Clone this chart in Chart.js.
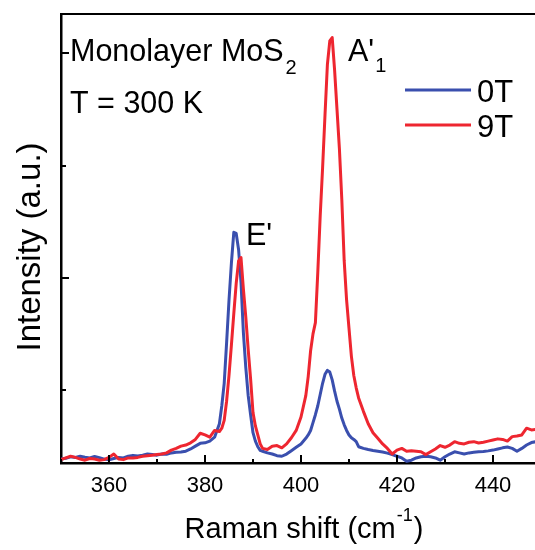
<!DOCTYPE html>
<html>
<head>
<meta charset="utf-8">
<script src="https://cdn.jsdelivr.net/npm/chart.js@4.4.1/dist/chart.umd.min.js"></script>
<style>
  html, body { margin: 0; padding: 0; background: #fff; overflow: hidden; }
  #wrap { width: 535px; height: 550px; position: relative; }
</style>
</head>
<body>
<div id="wrap"><canvas id="c" width="535" height="550"></canvas></div>
<script>
// Raman shift axis (cm^-1)
const shift = [
  350,351,352,353,354,355,356,357,358,359,360,361,362,363,364,365,366,367,368,369,
  370,371,372,373,374,375,376,377,378,379,380,381,382,383,
  383.5,384,384.5,385,385.5,386,386.5,387,387.5,388,388.5,389,389.5,390,390.5,391,391.5,392,
  393,394,395,396,397,398,399,400,401,
  401.5,402,402.5,403,403.5,404,404.5,405,405.5,406,406.5,407,407.5,408,408.5,409,409.5,410,410.5,411,411.5,412,
  413,414,415,416,417,418,419,420,421,422,423,424,425,426,427,428,429,430,431,432,433,434,435,436,437,438,439,440,
  441,442,443,444,445,446,447,448,449
];

// Intensity at 0 T (a.u.)
const int0T = [
  385,392,405,400,410,402,395,408,398,385,378,390,400,395,410,418,412,420,430,425,
  420,430,428,440,445,448,455,475,500,525,530,545,580,700,
  860,1060,1420,1800,2130,2405,2395,2250,1960,1510,1200,950,780,620,545,495,462,455,
  440,430,415,410,430,460,490,520,570,
  600,640,710,780,860,960,1060,1140,1175,1160,1090,990,900,830,750,690,640,600,575,560,540,495,
  480,470,462,455,448,438,425,410,395,365,375,395,405,410,405,395,375,405,430,450,440,430,440,445,450,452,458,465,
  475,485,492,480,455,480,510,532,540
];

// Intensity at 9 T (a.u.)
const int9T = [
  380,395,410,400,385,375,390,385,375,380,400,430,385,380,395,395,400,410,415,420,
  425,430,440,465,480,500,510,530,560,615,600,580,640,630,
  660,730,900,1130,1400,1680,1950,2150,2180,1900,1650,1360,1100,800,680,600,520,480,
  470,500,505,485,520,575,640,760,950,
  1120,1350,1500,1600,2050,2550,2980,3450,3900,4110,4140,3850,3500,3150,2700,2150,1800,1550,1300,1130,1020,930,
  810,700,620,570,520,480,430,465,480,455,460,455,450,425,450,475,505,490,510,540,525,520,535,540,528,535,545,555,
  565,560,545,585,590,600,660,645,650
];

const seriesNames = ['0T', '9T'];
const seriesColors = ['#3a4fae', '#ee2630'];

const xLabelTicks = [360, 380, 400, 420, 440];
const xMinorTicks = [350, 370, 390, 410, 430, 450];
const yMajorTicks = [2000, 4000];
const yMinorTicks = [1000, 3000];

const FONT = '"Liberation Sans", Arial, Helvetica, sans-serif';

// Frame line on top, inward tick marks, annotations, legend and axis titles
const decorations = {
  id: 'decorations',
  afterDraw(chart) {
    const { ctx, chartArea, scales } = chart;
    const xs = scales.x, ys = scales.y;
    ctx.save();
    ctx.strokeStyle = '#000';
    ctx.lineCap = 'butt';

    // top frame line
    ctx.lineWidth = 2;
    ctx.beginPath();
    ctx.moveTo(chartArea.left - 1, chartArea.top);
    ctx.lineTo(chart.width, chartArea.top);
    ctx.stroke();

    // x ticks pointing into the plot
    ctx.lineWidth = 2;
    const drawX = (vals, len) => vals.forEach(v => {
      const px = Math.round(xs.getPixelForValue(v));
      if (px < chartArea.left || px > chart.width) return;
      ctx.beginPath();
      ctx.moveTo(px, chartArea.bottom);
      ctx.lineTo(px, chartArea.bottom - len);
      ctx.stroke();
    });
    drawX(xLabelTicks, 8);
    drawX(xMinorTicks, 4);

    // y ticks pointing into the plot
    const drawY = (vals, len) => vals.forEach(v => {
      const py = Math.round(ys.getPixelForValue(v));
      ctx.beginPath();
      ctx.moveTo(chartArea.left, py);
      ctx.lineTo(chartArea.left + len, py);
      ctx.stroke();
    });
    drawY(yMajorTicks, 8);
    drawY(yMinorTicks, 5);

    ctx.fillStyle = '#000';
    ctx.textBaseline = 'alphabetic';
    ctx.textAlign = 'left';

    // sample annotation
    ctx.font = '30.5px ' + FONT;
    ctx.fillText('Monolayer MoS', 70, 61);
    let w = ctx.measureText('Monolayer MoS').width;
    ctx.font = '20px ' + FONT;
    ctx.fillText('2', 70 + w + 2, 74);
    ctx.font = '30.5px ' + FONT;
    ctx.fillText('T = 300 K', 70, 113);

    // peak labels
    ctx.fillText("A'", 348, 61);
    w = ctx.measureText("A'").width;
    ctx.font = '20px ' + FONT;
    ctx.fillText('1', 348 + w + 1, 72);
    ctx.font = '30.5px ' + FONT;
    ctx.fillText("E'", 246, 245);

    // legend
    const legendRows = [90, 125];
    chart.data.datasets.forEach((ds, i) => {
      const y = legendRows[i];
      ctx.strokeStyle = ds.borderColor;
      ctx.lineWidth = 3;
      ctx.beginPath();
      ctx.moveTo(405, y);
      ctx.lineTo(471, y);
      ctx.stroke();
      ctx.fillStyle = '#000';
      ctx.font = '31px ' + FONT;
      ctx.fillText(ds.label, 477, y + 12);
    });

    // x axis title with superscript
    ctx.font = '29px ' + FONT;
    const t1 = 'Raman shift (cm';
    const w1 = ctx.measureText(t1).width;
    ctx.font = '18px ' + FONT;
    const sup = '-1';
    const w2 = ctx.measureText(sup).width;
    ctx.font = '29px ' + FONT;
    const w3 = ctx.measureText(')').width;
    const total = w1 + w2 + w3 + 2;
    const x0 = (chartArea.left + chartArea.right) / 2 - total / 2 + 6;
    const base = 538;
    ctx.fillText(t1, x0, base);
    ctx.font = '18px ' + FONT;
    ctx.fillText(sup, x0 + w1 + 1, base - 17);
    ctx.font = '29px ' + FONT;
    ctx.fillText(')', x0 + w1 + w2 + 2, base);

    // y axis title
    ctx.save();
    ctx.translate(40, 247);
    ctx.rotate(-Math.PI / 2);
    ctx.textAlign = 'center';
    ctx.font = '33px ' + FONT;
    ctx.fillText('Intensity (a.u.)', 0, 0);
    ctx.restore();

    ctx.restore();
  }
};

const ctx = document.getElementById('c').getContext('2d');
new Chart(ctx, {
  type: 'line',
  data: {
    datasets: [
      {
        label: seriesNames[0],
        data: shift.map((x, i) => ({ x, y: int0T[i] })),
        borderColor: seriesColors[0],
        borderWidth: 3,
        pointRadius: 0,
        tension: 0,
        fill: false,
        order: 2
      },
      {
        label: seriesNames[1],
        data: shift.map((x, i) => ({ x, y: int9T[i] })),
        borderColor: seriesColors[1],
        borderWidth: 3,
        pointRadius: 0,
        tension: 0,
        fill: false,
        order: 1
      }
    ]
  },
  options: {
    responsive: false,
    animation: false,
    devicePixelRatio: 1,
    layout: { padding: { top: 14, right: 0, bottom: 0, left: 0 } },
    plugins: {
      legend: { display: false },
      tooltip: { enabled: false }
    },
    elements: { line: { borderJoinStyle: 'round', borderCapStyle: 'round' } },
    scales: {
      x: {
        type: 'linear',
        min: 350,
        max: 448.75,
        afterBuildTicks: s => { s.ticks = xLabelTicks.map(v => ({ value: v })); },
        afterFit: s => { s.height = 87; },
        grid: { display: false, drawTicks: false },
        border: { display: true, color: '#000', width: 2.5 },
        ticks: {
          color: '#000',
          font: { family: FONT, size: 22 },
          padding: 10,
          autoSkip: false,
          maxRotation: 0
        },
        title: { display: false }
      },
      y: {
        type: 'linear',
        min: 350,
        max: 4350,
        afterBuildTicks: s => { s.ticks = yMinorTicks.concat(yMajorTicks).sort((a, b) => a - b).map(v => ({ value: v })); },
        afterFit: s => { s.width = 61; },
        grid: { display: false, drawTicks: false },
        border: { display: true, color: '#000', width: 2.5 },
        ticks: { display: false },
        title: { display: false }
      }
    }
  },
  plugins: [decorations]
});
</script>
</body>
</html>
